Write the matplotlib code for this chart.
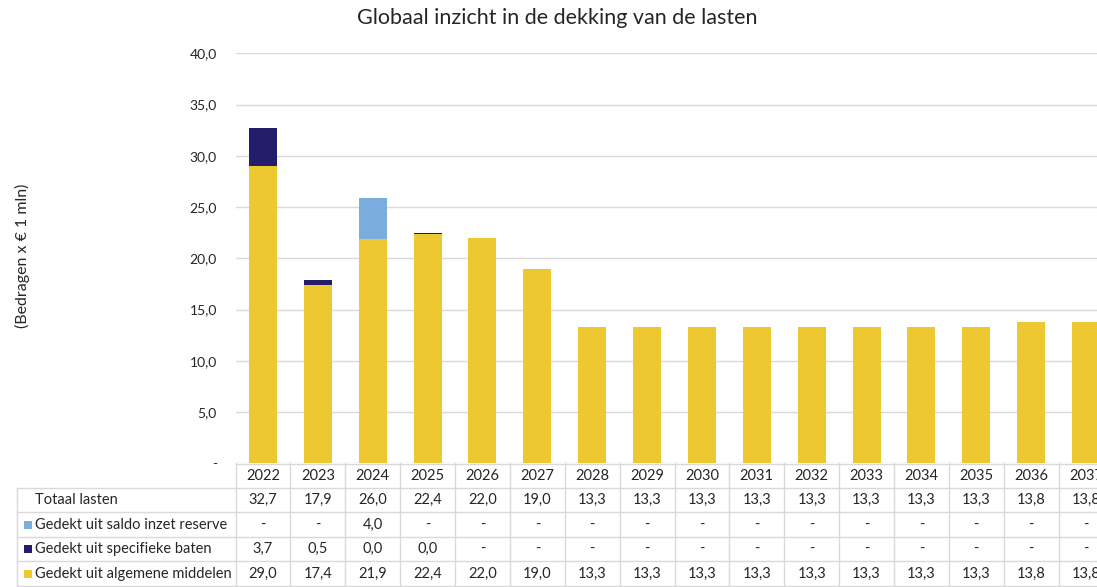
import matplotlib.pyplot as plt
import numpy as np

plt.rcParams['font.family'] = ['Lato', 'DejaVu Sans']

years = [str(y) for y in range(2022, 2038)]
totaal = [32.7, 17.9, 26.0, 22.4, 22.0, 19.0, 13.3, 13.3, 13.3, 13.3, 13.3, 13.3, 13.3, 13.3, 13.8, 13.8]
reserve = [None, None, 4.0, None, None, None, None, None, None, None, None, None, None, None, None, None]
specifiek = [3.7, 0.5, 0.01, 0.04, None, None, None, None, None, None, None, None, None, None, None, None]
algemeen = [29.0, 17.4, 21.9, 22.4, 22.0, 19.0, 13.3, 13.3, 13.3, 13.3, 13.3, 13.3, 13.3, 13.3, 13.8, 13.8]

labels = ["Totaal lasten", "Gedekt uit saldo inzet reserve",
          "Gedekt uit specifieke baten", "Gedekt uit algemene middelen"]

YELLOW = "#EEC830"
NAVY = "#241D6A"
LBLUE = "#7BADDF"
GRID = "#D9D9D9"
TEXT = "#262626"

W, H = 1097, 587
fig = plt.figure(figsize=(W / 100, H / 100), dpi=100)

# plot area in pixels (runs past the right edge like the source screenshot)
left_px, right_px, top_px, bot_px = 235.6, 1113.4, 53.3, 463.3
ax = fig.add_axes([left_px / W, (H - bot_px) / H, (right_px - left_px) / W, (bot_px - top_px) / H])

x = np.arange(len(years))
alg = np.array(algemeen, dtype=float)
spe = np.array([v or 0 for v in specifiek], dtype=float)
res = np.array([v or 0 for v in reserve], dtype=float)

w = 0.51
ax.bar(x, alg, width=w, color=YELLOW, zorder=3)
ax.bar(x, spe, width=w, bottom=alg, color=NAVY, zorder=3)
ax.bar(x, res, width=w, bottom=alg + spe, color=LBLUE, zorder=3)

ax.set_xlim(-0.5, len(years) - 0.5)
ax.set_ylim(0, 40)
ax.set_yticks(np.arange(0, 41, 5))
ax.set_yticklabels(["-"] + [f"{v:.1f}".replace(".", ",") for v in np.arange(5, 41, 5)])
ax.tick_params(axis="y", length=0, pad=13.5, labelsize=10, labelcolor=TEXT)
ax.set_xticks([])
ax.grid(axis="y", color=GRID, linewidth=1, zorder=0)
for s in ax.spines.values():
    s.set_visible(False)

fig.text(557 / W, 1 - 18 / H, "Globaal inzicht in de dekking van de lasten",
         ha="center", va="center", fontsize=15.5, color=TEXT)
fig.text(22 / W, 1 - 256 / H, "(Bedragen x € 1 mln)", rotation=90,
         ha="center", va="center", fontsize=11.5, color=TEXT)

# data table below the plot
cat_px = (right_px - left_px) / len(years)
tab = fig.add_axes([0, 0, right_px / W, (H - bot_px) / H])
x0 = -0.5 - left_px / cat_px
tab.set_xlim(x0, len(years) - 0.5)
row_h = 24.5
nrows = (H - bot_px) / row_h
tab.set_ylim(nrows, 0)
tab.axis("off")

lbl_left = x0 + 17 / cat_px
# horizontal lines
tab.plot([-0.5, len(years) - 0.5], [0.02, 0.02], color=GRID, lw=1)
for r in range(1, 6):
    tab.plot([lbl_left, len(years) - 0.5], [r, r], color=GRID, lw=1)
# vertical lines
tab.plot([lbl_left, lbl_left], [1, nrows], color=GRID, lw=1)
for k in range(len(years) + 1):
    tab.plot([k - 0.5, k - 0.5], [0, nrows], color=GRID, lw=1)

for i, yr in enumerate(years):
    tab.text(i, 0.5, yr, ha="center", va="center", fontsize=10.5, color=TEXT)


def fmt(v):
    return "-" if v is None else f"{v:.1f}".replace(".", ",")


rows = [totaal, reserve, specifiek, algemeen]
swatch = [None, LBLUE, NAVY, YELLOW]
for r, (vals, lab, col) in enumerate(zip(rows, labels, swatch), start=1):
    yc = r + 0.5
    if col is None:
        tab.text(x0 + 35 / cat_px, yc, lab, ha="left", va="center", fontsize=10.5, color=TEXT)
    else:
        tab.plot([x0 + 28.5 / cat_px], [yc], marker="s", ms=5.8, color=col, mew=0)
        tab.text(x0 + 35.5 / cat_px, yc, lab, ha="left", va="center", fontsize=10.5, color=TEXT)
    for i, v in enumerate(vals):
        tab.text(i, yc, fmt(v), ha="center", va="center", fontsize=10.5, color=TEXT)

fig.savefig("out.png", dpi=100)
